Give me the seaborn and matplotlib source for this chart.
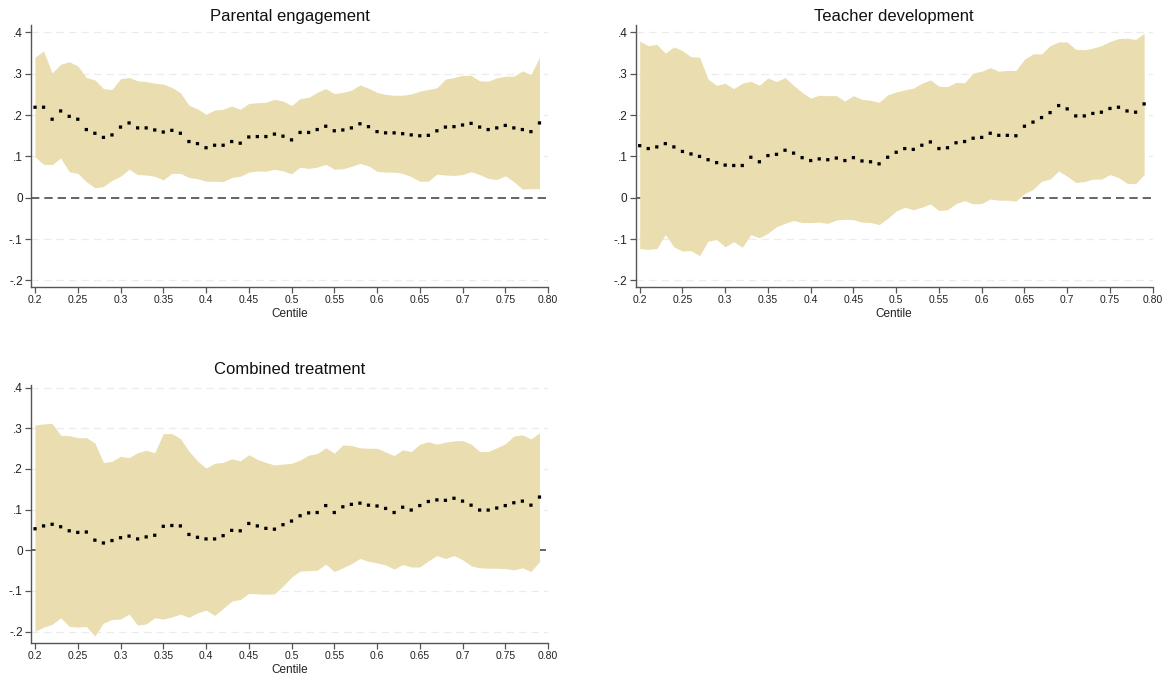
import numpy as np
import pandas as pd
import matplotlib
matplotlib.use("Agg")
import matplotlib.pyplot as plt
import seaborn as sns

# centiles of the outcome distribution
centile = [0.20, 0.21, 0.22, 0.23, 0.24, 0.25, 0.26, 0.27, 0.28, 0.29,
           0.30, 0.31, 0.32, 0.33, 0.34, 0.35, 0.36, 0.37, 0.38, 0.39,
           0.40, 0.41, 0.42, 0.43, 0.44, 0.45, 0.46, 0.47, 0.48, 0.49,
           0.50, 0.51, 0.52, 0.53, 0.54, 0.55, 0.56, 0.57, 0.58, 0.59,
           0.60, 0.61, 0.62, 0.63, 0.64, 0.65, 0.66, 0.67, 0.68, 0.69,
           0.70, 0.71, 0.72, 0.73, 0.74, 0.75, 0.76, 0.77, 0.78, 0.79]

# Parental engagement
parent_coef = [0.219, 0.219, 0.190, 0.210, 0.197, 0.190, 0.165, 0.156, 0.146, 0.152,
               0.171, 0.181, 0.169, 0.169, 0.164, 0.159, 0.163, 0.156, 0.136, 0.131,
               0.121, 0.127, 0.127, 0.136, 0.132, 0.147, 0.148, 0.148, 0.154, 0.149,
               0.140, 0.158, 0.158, 0.165, 0.173, 0.162, 0.164, 0.169, 0.179, 0.172,
               0.160, 0.157, 0.157, 0.155, 0.152, 0.150, 0.151, 0.162, 0.171, 0.172,
               0.176, 0.180, 0.171, 0.165, 0.169, 0.175, 0.169, 0.165, 0.160, 0.181]
parent_hi = [0.340, 0.355, 0.302, 0.323, 0.329, 0.319, 0.291, 0.285, 0.264, 0.262,
             0.288, 0.291, 0.283, 0.281, 0.277, 0.275, 0.267, 0.254, 0.224, 0.215,
             0.202, 0.212, 0.214, 0.222, 0.214, 0.228, 0.230, 0.231, 0.238, 0.234,
             0.223, 0.240, 0.243, 0.255, 0.264, 0.252, 0.255, 0.260, 0.273, 0.265,
             0.255, 0.250, 0.248, 0.248, 0.251, 0.258, 0.262, 0.266, 0.287, 0.291,
             0.296, 0.296, 0.283, 0.282, 0.290, 0.294, 0.294, 0.307, 0.298, 0.340]
parent_lo = [0.099, 0.081, 0.080, 0.096, 0.063, 0.059, 0.039, 0.024, 0.027, 0.042,
             0.052, 0.069, 0.056, 0.055, 0.052, 0.043, 0.059, 0.059, 0.049, 0.046,
             0.040, 0.040, 0.039, 0.049, 0.052, 0.062, 0.065, 0.064, 0.069, 0.065,
             0.058, 0.074, 0.071, 0.074, 0.081, 0.069, 0.070, 0.076, 0.083, 0.077,
             0.064, 0.062, 0.062, 0.059, 0.051, 0.040, 0.040, 0.057, 0.055, 0.054,
             0.056, 0.063, 0.056, 0.047, 0.044, 0.053, 0.039, 0.021, 0.022, 0.022]

# Teacher development
teacher_coef = [0.126, 0.119, 0.123, 0.131, 0.123, 0.112, 0.106, 0.100, 0.092, 0.085,
                0.079, 0.078, 0.078, 0.098, 0.087, 0.102, 0.105, 0.115, 0.108, 0.097,
                0.090, 0.094, 0.092, 0.096, 0.090, 0.097, 0.089, 0.087, 0.082, 0.098,
                0.110, 0.119, 0.117, 0.127, 0.135, 0.119, 0.121, 0.133, 0.136, 0.144,
                0.146, 0.156, 0.151, 0.151, 0.150, 0.173, 0.183, 0.194, 0.206, 0.223,
                0.215, 0.198, 0.198, 0.204, 0.207, 0.216, 0.219, 0.210, 0.207, 0.227]
teacher_hi = [0.379, 0.368, 0.371, 0.350, 0.365, 0.356, 0.341, 0.340, 0.287, 0.272,
              0.277, 0.264, 0.277, 0.282, 0.272, 0.290, 0.281, 0.291, 0.272, 0.255,
              0.241, 0.248, 0.247, 0.247, 0.234, 0.247, 0.238, 0.236, 0.231, 0.249,
              0.256, 0.261, 0.265, 0.277, 0.285, 0.270, 0.269, 0.279, 0.278, 0.302,
              0.306, 0.315, 0.306, 0.308, 0.308, 0.335, 0.348, 0.348, 0.368, 0.377,
              0.377, 0.359, 0.358, 0.362, 0.368, 0.378, 0.385, 0.386, 0.383, 0.398]
teacher_lo = [-0.123, -0.125, -0.123, -0.089, -0.119, -0.129, -0.128, -0.140, -0.105, -0.101,
              -0.119, -0.106, -0.120, -0.089, -0.097, -0.086, -0.070, -0.062, -0.055, -0.060,
              -0.060, -0.059, -0.062, -0.054, -0.052, -0.053, -0.059, -0.060, -0.065, -0.050,
              -0.032, -0.023, -0.029, -0.023, -0.015, -0.031, -0.029, -0.014, -0.007, -0.015,
              -0.014, -0.003, -0.006, -0.006, -0.008, 0.010, 0.020, 0.040, 0.045, 0.065,
              0.052, 0.037, 0.039, 0.045, 0.045, 0.056, 0.049, 0.035, 0.034, 0.056]

# Combined treatment
combined_coef = [0.053, 0.060, 0.064, 0.058, 0.048, 0.044, 0.045, 0.025, 0.018, 0.024,
                 0.031, 0.035, 0.028, 0.033, 0.037, 0.059, 0.061, 0.060, 0.039, 0.032,
                 0.028, 0.028, 0.036, 0.049, 0.048, 0.066, 0.060, 0.054, 0.052, 0.063,
                 0.072, 0.085, 0.092, 0.093, 0.110, 0.093, 0.107, 0.113, 0.116, 0.111,
                 0.109, 0.103, 0.093, 0.106, 0.099, 0.110, 0.120, 0.124, 0.123, 0.128,
                 0.121, 0.111, 0.099, 0.099, 0.104, 0.110, 0.117, 0.121, 0.111, 0.131]
combined_hi = [0.308, 0.311, 0.312, 0.283, 0.282, 0.277, 0.277, 0.264, 0.216, 0.219,
               0.231, 0.228, 0.240, 0.246, 0.240, 0.287, 0.287, 0.275, 0.244, 0.220,
               0.202, 0.214, 0.216, 0.225, 0.220, 0.235, 0.224, 0.216, 0.210, 0.212,
               0.214, 0.222, 0.234, 0.238, 0.252, 0.239, 0.259, 0.258, 0.252, 0.251,
               0.251, 0.242, 0.233, 0.247, 0.243, 0.261, 0.267, 0.261, 0.266, 0.269,
               0.270, 0.261, 0.243, 0.243, 0.252, 0.262, 0.281, 0.284, 0.274, 0.289]
combined_lo = [-0.199, -0.189, -0.182, -0.166, -0.187, -0.189, -0.187, -0.211, -0.179, -0.170,
               -0.169, -0.157, -0.184, -0.181, -0.166, -0.169, -0.164, -0.157, -0.165, -0.154,
               -0.147, -0.160, -0.143, -0.125, -0.121, -0.106, -0.107, -0.108, -0.107, -0.088,
               -0.066, -0.051, -0.050, -0.049, -0.034, -0.052, -0.043, -0.033, -0.020, -0.027,
               -0.031, -0.036, -0.046, -0.035, -0.041, -0.041, -0.026, -0.013, -0.020, -0.013,
               -0.023, -0.038, -0.043, -0.044, -0.044, -0.045, -0.048, -0.043, -0.052, -0.028]

panel_titles = ["Parental engagement", "Teacher development", "Combined treatment"]
x_ticks = [0.2, 0.25, 0.3, 0.35, 0.4, 0.45, 0.5, 0.55, 0.6, 0.65, 0.7, 0.75, 0.8]
x_ticklabels = ["0.2", "0.25", "0.3", "0.35", "0.4", "0.45", "0.5",
                "0.55", "0.6", "0.65", "0.7", "0.75", "0.80"]
y_ticks = [0.4, 0.3, 0.2, 0.1, 0.0, -0.1, -0.2]
y_ticklabels = [".4", ".3", ".2", ".1", "0", "-.1", "-.2"]

sns.set_style("white")
plt.rcParams["font.family"] = ["Liberation Sans", "DejaVu Sans"]

band_color = "#eaddaf"
axis_color = "#555555"

fig = plt.figure(figsize=(11.7, 6.79), dpi=100)

# [left, bottom, width, height] in figure fractions
posicoes = [
    [0.0265, 0.5773, 0.4419, 0.3859],
    [0.5433, 0.5773, 0.4419, 0.3859],
    [0.0265, 0.0530, 0.4419, 0.3800],
]
ylims = [(-0.216, 0.418), (-0.216, 0.418), (-0.228, 0.4066)]
title_pads = [3, 3, 8]

paineis = [
    (parent_coef, parent_lo, parent_hi),
    (teacher_coef, teacher_lo, teacher_hi),
    (combined_coef, combined_lo, combined_hi),
]

for i, (coef, lo, hi) in enumerate(paineis):
    ax = fig.add_axes(posicoes[i])
    df = pd.DataFrame({"centile": centile, "coef": coef, "lo": lo, "hi": hi})

    # light dashed gridlines, dark dashed zero line, then the band on top
    for yv in y_ticks:
        if yv == 0:
            ax.axhline(0, color="#4a4a4a", lw=1.2, ls=(0, (5, 3)), zorder=1)
        else:
            ax.axhline(yv, color="#ececec", lw=0.9, ls=(0, (6, 4)), zorder=0)

    ax.fill_between(df["centile"], df["lo"], df["hi"], color=band_color,
                    lw=0, zorder=2)
    sns.scatterplot(data=df, x="centile", y="coef", ax=ax, marker="s",
                    s=5.5, color="black", edgecolor="none", zorder=3, snap=False)

    ax.set_xlim(0.1953, 0.80)
    ax.set_ylim(*ylims[i])
    ax.set_xticks(x_ticks)
    ax.set_xticklabels(x_ticklabels, fontsize=7.5, color="#222222")
    ax.set_yticks(y_ticks)
    ax.set_yticklabels(y_ticklabels, fontsize=8.5, color="#222222")
    ax.set_xlabel("Centile", fontsize=8.5, labelpad=2, color="#222222")
    ax.set_ylabel("")
    ax.set_title(panel_titles[i], fontsize=12, pad=title_pads[i], color="#111111")

    ax.tick_params(axis="both", direction="out", length=4, width=0.9,
                   color=axis_color, pad=2, bottom=True, left=True)
    for lado in ["top", "right"]:
        ax.spines[lado].set_visible(False)
    for lado in ["left", "bottom"]:
        ax.spines[lado].set_color(axis_color)
        ax.spines[lado].set_linewidth(1.0)
    ax.grid(False)

fig.savefig("out.png", dpi=100)
plt.close(fig)
